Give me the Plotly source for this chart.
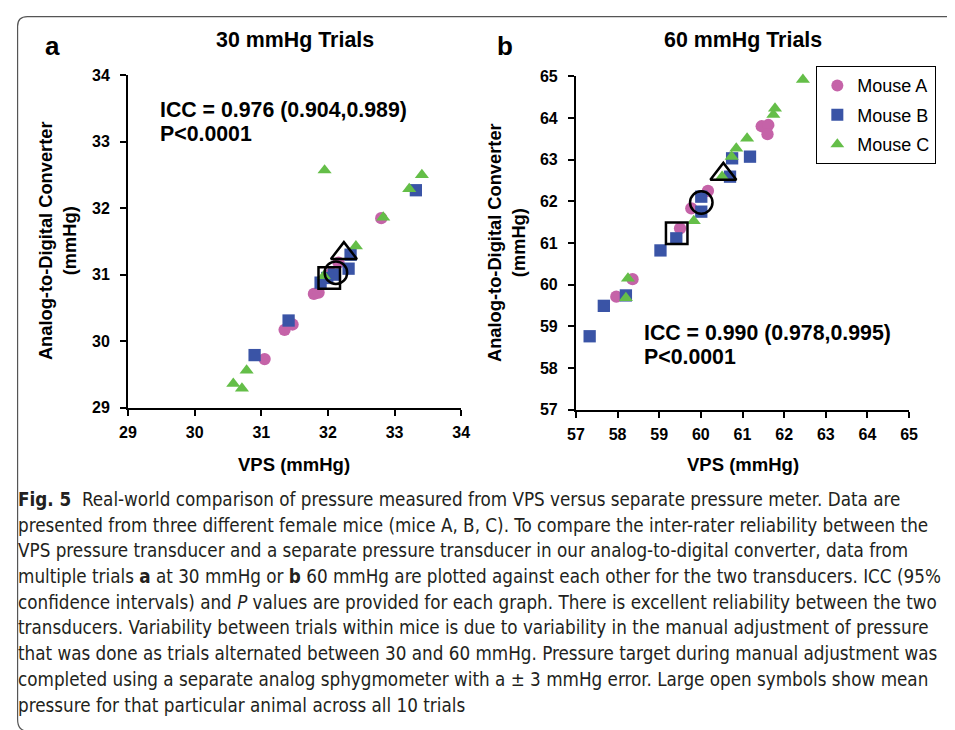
import plotly.graph_objects as go

W, H = 955, 730
# observed page mapping: displayed = S * (figure_px + PAD)
SX, SY, PAD = 955 / 971, 730 / 746, 16

def fx(x):
    return (x / SX - PAD) / W

def fy(y):
    return 1 - (y / SY - PAD) / H

# ---------------- data ----------------
# Panel a: 30 mmHg trials (VPS vs analog-to-digital converter)
a_mouseA_vps = [32.80, 32.16, 31.79, 31.86, 31.47, 31.35, 31.05, 32.05]
a_mouseA_adc = [31.85, 31.18, 30.71, 30.73, 30.25, 30.17, 29.73, 31.02]
a_mouseB_vps = [33.32, 32.34, 32.31, 32.09, 31.89, 31.41, 30.90, 31.99]
a_mouseB_adc = [32.27, 31.30, 31.09, 31.00, 30.88, 30.31, 29.79, 30.95]
a_mouseC_vps = [31.95, 33.41, 33.22, 32.83, 32.42, 31.94, 30.78, 30.58, 30.71]
a_mouseC_adc = [32.57, 32.50, 32.29, 31.86, 31.43, 30.98, 29.56, 29.36, 29.29]
a_mean_vps = [32.12, 32.02, 32.24]
a_mean_adc = [31.03, 30.95, 31.32]

# Panel b: 60 mmHg trials
b_mouseA_vps = [61.46, 61.62, 61.60, 60.17, 59.77, 59.50, 58.36, 57.97]
b_mouseA_adc = [63.80, 63.83, 63.61, 62.25, 61.83, 61.35, 60.13, 59.71]
b_mouseB_vps = [61.18, 60.75, 60.70, 60.01, 60.01, 59.41, 59.03, 58.20, 57.67, 57.33]
b_mouseB_adc = [63.07, 63.03, 62.59, 62.11, 61.75, 61.11, 60.82, 59.74, 59.49, 58.76]
b_mouseC_vps = [62.45, 61.78, 61.74, 61.11, 60.85, 60.74, 60.51, 59.83, 58.25, 58.20]
b_mouseC_adc = [64.92, 64.23, 64.08, 63.51, 63.27, 63.07, 62.59, 61.53, 60.15, 59.68]
b_mean_vps = [60.01, 59.42, 60.54]
b_mean_adc = [61.97, 61.23, 62.65]

mouse_names = ["Mouse A", "Mouse B", "Mouse C"]
a_ticks = [29, 30, 31, 32, 33, 34]
b_ticks = [57, 58, 59, 60, 61, 62, 63, 64, 65]

caption_lines = [
    "<b>Fig. 5</b>  Real-world comparison of pressure measured from VPS versus separate pressure meter. Data are",
    "presented from three different female mice (mice A, B, C). To compare the inter-rater reliability between the",
    "VPS pressure transducer and a separate pressure transducer in our analog-to-digital converter, data from",
    "multiple trials <b>a</b> at 30 mmHg or <b>b</b> 60 mmHg are plotted against each other for the two transducers. ICC (95%",
    "confidence intervals) and <i>P</i> values are provided for each graph. There is excellent reliability between the two",
    "transducers. Variability between trials within mice is due to variability in the manual adjustment of pressure",
    "that was done as trials alternated between 30 and 60 mmHg. Pressure target during manual adjustment was",
    "completed using a separate analog sphygmometer with a \u00b1 3 mmHg error. Large open symbols show mean",
    "pressure for that particular animal across all 10 trials",
]

# ---------------- styles ----------------
colors = ["#C563A8", "#3A54A6", "#64BE48"]
symbols = ["circle", "square", "triangle-up"]
sizes = [12.3, 12.3, 12.3]
open_symbols = ["circle-open", "square-open", "triangle-up-open"]
open_sizes = [22.5, 21.5, 22.5]
ARIAL = "Arial, Liberation Sans, Helvetica, sans-serif"
NARROW = "Liberation Sans Narrow, Arial Narrow, DejaVu Sans Condensed, sans-serif"

fig = go.Figure()

panels = [
    ("x", "y", [a_mouseA_vps, a_mouseB_vps, a_mouseC_vps],
     [a_mouseA_adc, a_mouseB_adc, a_mouseC_adc], a_mean_vps, a_mean_adc, False),
    ("x2", "y2", [b_mouseA_vps, b_mouseB_vps, b_mouseC_vps],
     [b_mouseA_adc, b_mouseB_adc, b_mouseC_adc], b_mean_vps, b_mean_adc, True),
]

for xa, ya, xs, ys, mx, my, show in panels:
    for i in range(3):
        fig.add_trace(go.Scatter(
            x=xs[i], y=ys[i], mode="markers", name=mouse_names[i],
            xaxis=xa, yaxis=ya, showlegend=show, legendgroup=mouse_names[i],
            marker=dict(symbol=symbols[i], size=sizes[i], color=colors[i], line=dict(width=0)),
            cliponaxis=False,
        ))
    for i in range(3):
        fig.add_trace(go.Scatter(
            x=[mx[i]], y=[my[i]], mode="markers", showlegend=False,
            xaxis=xa, yaxis=ya,
            marker=dict(symbol=open_symbols[i], size=open_sizes[i], color="black",
                        line=dict(width=2.5, color="black")),
            cliponaxis=False,
        ))

axis_common = dict(
    showline=True, linecolor="black", linewidth=2, ticks="outside", ticklen=6,
    tickwidth=2, tickcolor="black", showgrid=False, zeroline=False,
    tickfont=dict(family=ARIAL, size=16, color="black", weight="bold"),
    fixedrange=True,
)

fig.update_layout(
    width=W, height=H,
    margin=dict(l=0, r=0, t=0, b=0),
    paper_bgcolor="white", plot_bgcolor="white",
    xaxis=dict(domain=[fx(127), fx(461)], range=[29, 34], tickvals=a_ticks,
               anchor="y", ticklabelstandoff=3, **axis_common),
    yaxis=dict(domain=[fy(408), fy(75)], range=[29, 34], tickvals=a_ticks,
               anchor="x", ticklabelstandoff=7, **axis_common),
    xaxis2=dict(domain=[fx(576), fx(910)], range=[57, 65], tickvals=b_ticks,
                anchor="y2", ticklabelstandoff=3, **axis_common),
    yaxis2=dict(domain=[fy(410), fy(76)], range=[57, 65], tickvals=b_ticks,
                anchor="x2", ticklabelstandoff=7, **axis_common),
    legend=dict(x=fx(817), y=fy(66), xanchor="left", yanchor="top",
                bordercolor="black", borderwidth=1, bgcolor="white",
                font=dict(family=ARIAL, size=18, color="black"),
                tracegroupgap=3, itemsizing="constant"),
    showlegend=True,
)

ann = []
def add_text(text, x, y, size, xanchor="center", yanchor="middle", bold=True,
             angle=0, family=ARIAL, color="black"):
    ann.append(dict(text=text, x=fx(x), y=fy(y), xref="paper", yref="paper",
                    xanchor=xanchor, yanchor=yanchor, showarrow=False,
                    textangle=angle,
                    font=dict(family=family, size=size, color=color,
                              weight="bold" if bold else "normal")))

# panel letters and titles
add_text("a", 51, 46, 26)
add_text("b", 505, 46, 26)
add_text("30 mmHg Trials", 294, 40, 21.4)
add_text("60 mmHg Trials", 743, 40, 21.4)
# axis titles
add_text("VPS (mmHg)", 293, 465, 18.5)
add_text("VPS (mmHg)", 743, 465, 18.5)
add_text("Analog-to-Digital Converter<br>(mmHg)", 57, 241, 18.3, angle=-90)
add_text("Analog-to-Digital Converter<br>(mmHg)", 507, 243, 18.3, angle=-90)
# statistics
add_text("ICC = 0.976 (0.904,0.989)", 157, 110, 21.3, xanchor="left")
add_text("P<0.0001", 157, 134, 21.3, xanchor="left")
add_text("ICC = 0.990 (0.978,0.995)", 642, 333, 21.3, xanchor="left")
add_text("P<0.0001", 642, 357, 21.3, xanchor="left")
# caption
for k, line in enumerate(caption_lines):
    add_text(line, 15, 500 + 25.75 * k, 18.7, xanchor="left", bold=False,
             family=NARROW, color="#231F20")

fig.update_layout(annotations=ann)

# rounded border of the figure box (kept just inside the drawable area)
bx0, by0 = 0.6 / W, 1 - 0.6 / H
def P(x, y):
    return f"{x:.5f},{y:.5f}"
r = 10
border = (f"M {P(1.0, by0)} L {P(bx0 + r / W, by0)} "
          f"Q {P(bx0, by0)} {P(bx0, by0 - r / H)} "
          f"L {P(bx0, fy(720))} Q {P(bx0, fy(732))} {P(bx0 + r / W, fy(732))}")
fig.add_shape(type="path", path=border, xref="paper", yref="paper",
              line=dict(color="#555555", width=1.2))

fig.write_html("out.html", config={"displayModeBar": False})
